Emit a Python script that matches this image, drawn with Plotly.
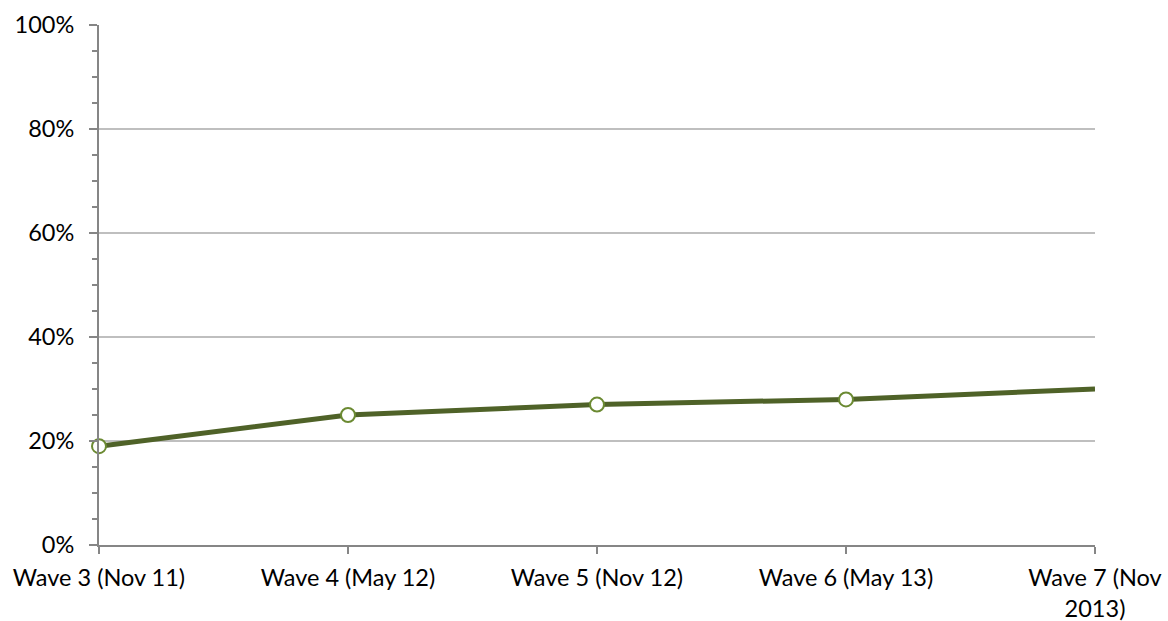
import plotly.graph_objects as go

# Survey waves and share of respondents (fraction of 1)
waves = ["Wave 3 (Nov 11)", "Wave 4 (May 12)", "Wave 5 (Nov 12)",
         "Wave 6 (May 13)", "Wave 7 (Nov<br>2013)"]
share = [0.19, 0.25, 0.27, 0.28, 0.30]
show_marker = [True, True, True, True, False]

LINE = "#4F6228"
MARKER_EDGE = "#6B8A32"
AXIS = "#868686"
FONT = "Lato, Open Sans, sans-serif"
FSIZE = 23.5

fig = go.Figure()
# trend line
fig.add_trace(go.Scatter(
    x=waves, y=share, mode="lines",
    line=dict(color=LINE, width=5),
    cliponaxis=False, hoverinfo="skip", showlegend=False,
))
# hollow point markers (last wave has none)
fig.add_trace(go.Scatter(
    x=[w for w, m in zip(waves, show_marker) if m],
    y=[v for v, m in zip(share, show_marker) if m],
    mode="markers",
    marker=dict(size=14, color="#FFFFFF", opacity=1,
                line=dict(color=MARKER_EDGE, width=2)),
    cliponaxis=False, hoverinfo="skip", showlegend=False,
))

fig.update_layout(
    width=1168, height=621,
    margin=dict(l=99, r=73, t=25, b=76),
    paper_bgcolor="white", plot_bgcolor="white",
    font=dict(family=FONT, size=FSIZE, color="#000000"),
)

fig.update_xaxes(
    type="category", categoryorder="array", categoryarray=waves,
    range=[0, 4], automargin=False,
    showgrid=False, zeroline=False,
    showline=True, linecolor=AXIS, linewidth=2,
    ticks="outside", ticklen=7, tickcolor=AXIS, tickwidth=2,
    ticklabelstandoff=4,
    tickfont=dict(family=FONT, size=FSIZE),
)
fig.update_yaxes(
    range=[0, 1], dtick=0.2, tickformat=".0%", automargin=False,
    showgrid=True, gridcolor="#BFBFBF", gridwidth=1.5,
    zeroline=False,
    showline=True, linecolor=AXIS, linewidth=2,
    ticks="outside", ticklen=8, tickcolor=AXIS, tickwidth=2,
    ticklabelstandoff=10,
    minor=dict(dtick=0.05, ticks="outside", ticklen=5,
               tickcolor=AXIS, tickwidth=2, showgrid=False),
    tickfont=dict(family=FONT, size=FSIZE),
)

fig.write_html("out.html")
